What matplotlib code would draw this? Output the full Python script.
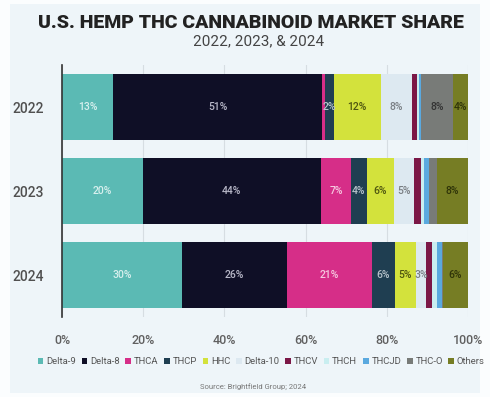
import numpy as np
import matplotlib.pyplot as plt
from matplotlib.patches import Rectangle

# market share by cannabinoid (percent), years top to bottom
years = ['2022', '2023', '2024']
cannabinoids = ['Delta-9', 'Delta-8', 'THCA', 'THCP', 'HHC', 'Delta-10',
                'THCV', 'THCH', 'THCJD', 'THC-O', 'Others']

delta9 = [12.6, 19.9, 29.5]
delta8 = [51.5, 43.9, 26.0]
thca = [0.8, 7.4, 20.9]
thcp = [2.0, 3.9, 5.6]
hhc = [11.6, 6.7, 5.2]
delta10 = [7.6, 4.9, 2.5]
thcv = [1.3, 1.8, 1.5]
thch = [0.5, 0.7, 1.1]
thcjd = [0.5, 1.1, 1.2]
thco = [8.0, 2.0, 0.4]
others = [3.6, 7.6, 6.1]

# printed labels on the bars (None = no label)
labels_2022 = ['13%', '51%', None, '2%', '12%', '8%', None, None, None, '8%', '4%']
labels_2023 = ['20%', '44%', '7%', '4%', '6%', '5%', None, None, None, None, '8%']
labels_2024 = ['30%', '26%', '21%', '6%', '5%', '3%', None, None, None, None, '6%']

colors = ['#5bbab4', '#0f0f26', '#d62e88', '#1f3e51', '#d3e23c', '#dde9f1',
          '#7b1746', '#c9eef0', '#5aa9df', '#787b78', '#767d24']
text_colors = ['#d8f0ee', '#b8b8c8', '#f6c8df', '#b8c4cc', '#4e5510', '#7a7f84',
               '#ffffff', '#555555', '#ffffff', '#333333', '#2e3308']

series = [delta9, delta8, thca, thcp, hhc, delta10, thcv, thch, thcjd, thco, others]
bar_labels = [labels_2022, labels_2023, labels_2024]

fig = plt.figure(figsize=(4.9, 3.97), dpi=100, facecolor='#fbfdfe')
fig.patches.append(Rectangle((10 / 490, 4 / 397), 470 / 490, 389 / 397,
                             transform=fig.transFigure, facecolor='#eef5f9',
                             edgecolor='none', zorder=-10))

ax = fig.add_axes([62 / 490, 1 - 317 / 397, 406 / 490, 252 / 397])
ax.set_facecolor('none')

y = np.arange(len(years))
left = np.zeros(len(years))
for i, (name, vals) in enumerate(zip(cannabinoids, series)):
    vals = np.array(vals)
    ax.barh(y, vals, left=left, height=0.79, color=colors[i], label=name,
            edgecolor='none', zorder=2)
    for j in range(len(years)):
        lab = bar_labels[j][i]
        if lab:
            ax.text(left[j] + vals[j] / 2, y[j], lab, ha='center', va='center',
                    fontsize=7.5, fontweight='medium', color=text_colors[i],
                    family='Roboto', zorder=3)
    left += vals

ax.set_xlim(0, 100)
ax.set_ylim(2.5, -0.5)
ax.set_yticks(y)
ax.set_yticklabels(years, fontsize=10, fontweight='medium', color='#505050',
                   family='Roboto')
ax.set_xticks([0, 20, 40, 60, 80, 100])
ax.set_xticklabels(['0%', '20%', '40%', '60%', '80%', '100%'], fontsize=9,
                   fontweight='medium', color='#606060', family='Roboto')
ax.tick_params(length=0, pad=12)
ax.tick_params(axis='y', pad=13)
ax.xaxis.grid(True, color='#d6dde2', lw=0.8, zorder=1)
ax.set_axisbelow(True)
for s in ['top', 'right', 'bottom']:
    ax.spines[s].set_visible(False)
ax.spines['left'].set_color('#333333')
ax.spines['left'].set_linewidth(1.2)
ax.spines['left'].set_zorder(4)

fig.text(0.513, 1 - 23.5 / 397, 'U.S. HEMP THC CANNABINOID MARKET SHARE',
         ha='center', va='center', fontsize=14, fontweight='black',
         color='#222222', family='Roboto')
fig.text(0.527, 1 - 41 / 397, '2022, 2023, & 2024', ha='center', va='center',
         fontsize=11, color='#444444', family='Roboto')

leg = fig.legend(loc='center', bbox_to_anchor=(0.533, 1 - 362 / 397), ncol=11,
                 frameon=False, handlelength=0.6, handleheight=0.6,
                 handletextpad=0.3, columnspacing=0.6, borderpad=0,
                 prop={'family': 'Roboto', 'size': 6.8})
for t in leg.get_texts():
    t.set_color('#555555')

fig.text(0.516, 1 - 387 / 397, 'Source: Brightfield Group; 2024', ha='center',
         va='center', fontsize=5.5, color='#777777', family='Roboto')

fig.savefig('out.png', dpi=100, facecolor=fig.get_facecolor())
